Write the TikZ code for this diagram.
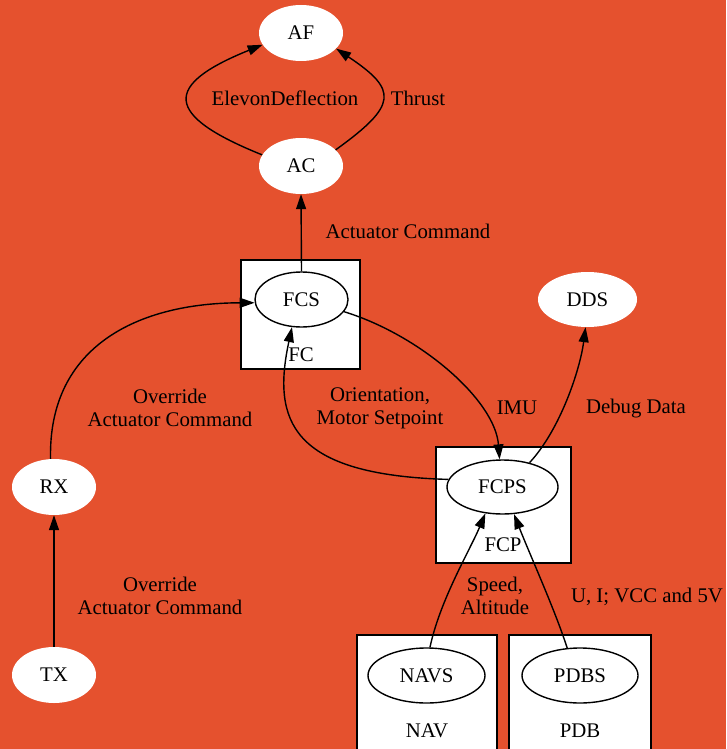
\documentclass[tikz,border=0pt]{standalone}
\usepackage{fontspec}
\setmainfont{Liberation Serif}
\usetikzlibrary{shapes.geometric,arrows.meta}
\definecolor{bgorange}{HTML}{E5512E}

\begin{document}
\begin{tikzpicture}[x=1pt,y=-1pt]
    \tikzset{every node/.style={font=\fontsize{20.8}{23}\selectfont},
             ext/.style={ellipse,fill=white,inner sep=0pt,minimum width=84pt,minimum height=56pt},
             subsys/.style={ellipse,draw,line width=1.4pt,fill=white,inner sep=0pt,minimum height=55pt},
             cluster/.style={draw,line width=1.4pt,fill=white},
             lbl/.style={align=center,inner sep=0pt},
             flow/.style={line width=1.4pt,-{Triangle[length=15pt,width=10pt]}}}
    \useasboundingbox (0,0) rectangle (726,749);
    \fill[bgorange] (0,0) rectangle (726,749);
    % clusters
    \node[cluster,minimum width=119pt,minimum height=109pt] (FC) at (300.5,314.5) {};
    \node[cluster,minimum width=135pt,minimum height=116pt] (FCP) at (503.5,505) {};
    \node[cluster,minimum width=140pt,minimum height=117pt] (NAV) at (427,693.5) {};
    \node[cluster,minimum width=142pt,minimum height=117pt] (PDB) at (580,693.5) {};
    \node (FClbl) at (301,355) {FC};
    \node (FCPlbl) at (503,545) {FCP};
    \node (NAVlbl) at (427,731) {NAV};
    \node (PDBlbl) at (580,731) {PDB};
    % nodes
    \node[ext] (AF) at (301,33) {AF};
    \node[ext] (AC) at (301,166) {AC};
    \node[ext,minimum width=99pt,minimum height=55pt] (DDS) at (587.5,299.5) {DDS};
    \node[ext] (RX) at (54,487) {RX};
    \node[ext] (TX) at (54,675) {TX};
    \node[subsys,minimum width=93pt] (FCS) at (301.5,299.5) {FCS};
    \node[subsys,minimum width=111pt,minimum height=54pt] (FCPS) at (502.5,487) {FCPS};
    \node[subsys,minimum width=117pt] (NAVS) at (426.5,675.5) {NAVS};
    \node[subsys,minimum width=116pt] (PDBS) at (580,675.5) {PDBS};
    % edges
    \draw[flow] (FCS.north) -- (AC.south);
    \draw[flow] (AC.164) .. controls (163,115) and (163,85) .. (AF.-163);
    \draw[flow] (AC.25) .. controls (398,105) and (398,90) .. (AF.-24);
    \draw[flow] (RX.97) .. controls (48,345) and (140,303) .. (FCS.-176);
    \draw[flow] (TX.north) -- (RX.south);
    \draw[flow] (FCPS.172) .. controls (290,475) and (272,420) .. (FCS.251);
    \draw[flow] (FCS.-16) .. controls (420,335) and (495,400) .. (FCPS.96);
    \draw[flow] (FCPS.42) .. controls (560,430) and (580,370) .. (DDS.266);
    \draw[flow] (NAVS.83) .. controls (440,600) and (470,550) .. (FCPS.237);
    \draw[flow] (PDBS.115) .. controls (555,610) and (530,555) .. (FCPS.-67);
    % edge labels
    \node[lbl] (elevonlbl) at (285,98) {ElevonDeflection};
    \node[lbl] (thrustlbl) at (418,98) {Thrust};
    \node[lbl] (actlbl) at (408,231) {Actuator Command};
    \node[lbl] (rxlbl) at (170,408) {Override\\Actuator Command};
    \node[lbl] (txlbl) at (160,596) {Override\\Actuator Command};
    \node[lbl] (orientlbl) at (380,408) {Orientation,\\Motor Setpoint};
    \node[lbl] (imulbl) at (517,408) {IMU};
    \node[lbl] (debuglbl) at (636,409) {Debug Data};
    \node[lbl] (speedlbl) at (495,596) {Speed,\\Altitude};
    \node[lbl] (pdblbl) at (647,597) {U, I; VCC and 5V};
\end{tikzpicture}
\end{document}
